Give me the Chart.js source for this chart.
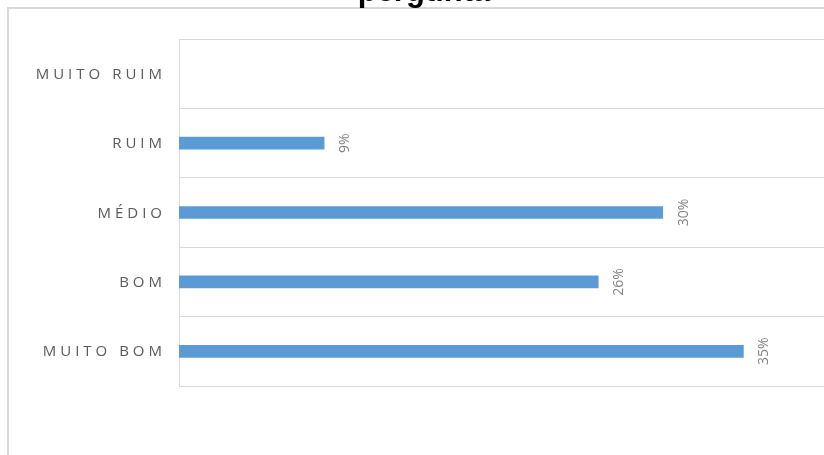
<!DOCTYPE html>
<html>
<head>
<meta charset="utf-8">
<script src="https://cdn.jsdelivr.net/npm/chart.js@4.4.0/dist/chart.umd.min.js"></script>
<style>
  html, body { margin: 0; padding: 0; background: #fff; overflow: hidden; }
  #wrap { position: relative; width: 824px; height: 455px; }
  #frame {
    position: absolute; left: 7px; top: 7px; width: 900px; height: 500px;
    border-left: 2px solid #d9d9d9; border-top: 2px solid #d9d9d9;
  }
  canvas { position: absolute; left: 0; top: 0; }
</style>
</head>
<body>
<div id="wrap">
  <div id="frame"></div>
  <canvas id="answers" width="824" height="455"></canvas>
</div>
<script>
const titleText = 'pergunta';
const categories = ['MUITO RUIM', 'RUIM', 'MÉDIO', 'BOM', 'MUITO BOM'];
const percentages = [null, 9, 30, 26, 35];
const axisMax = 40;

const ctx = document.getElementById('answers').getContext('2d');

// title sits mostly above the top edge, only its lower part shows
const titlePlugin = {
  id: 'titleLine',
  beforeDraw(chart) {
    const c = chart.ctx;
    c.save();
    c.font = 'bold 31px "Liberation Sans", Arial, sans-serif';
    c.fillStyle = '#000';
    c.textAlign = 'center';
    c.textBaseline = 'alphabetic';
    c.fillText(titleText, 424, 1);
    c.restore();
  }
};

// spaced-out category names to the left of the plot
const categoryLabels = {
  id: 'categoryLabels',
  afterDraw(chart) {
    const c = chart.ctx;
    const y = chart.scales.y;
    c.save();
    c.font = '15px "Open Sans", sans-serif';
    c.fillStyle = '#595959';
    c.letterSpacing = '4px';
    c.textAlign = 'right';
    c.textBaseline = 'alphabetic';
    categories.forEach((name, i) => {
      c.fillText(name, 166, y.getPixelForValue(i) + 5);
    });
    c.restore();
  }
};

// rotated percentage next to each bar end
const valueLabels = {
  id: 'valueLabels',
  afterDatasetsDraw(chart) {
    const c = chart.ctx;
    const meta = chart.getDatasetMeta(0);
    c.save();
    c.font = '14px "Open Sans", sans-serif';
    c.fillStyle = '#808080';
    c.textAlign = 'center';
    c.textBaseline = 'middle';
    meta.data.forEach((bar, i) => {
      const v = percentages[i];
      if (v == null) return;
      c.save();
      c.translate(bar.x + 21, bar.y);
      c.rotate(-Math.PI / 2);
      c.fillText(v + '%', 0, 0);
      c.restore();
    });
    c.restore();
  }
};

new Chart(ctx, {
  type: 'bar',
  data: {
    labels: categories,
    datasets: [{
      data: percentages,
      backgroundColor: '#5b9bd5',
      borderWidth: 0,
      barThickness: 12
    }]
  },
  options: {
    indexAxis: 'y',
    responsive: false,
    animation: false,
    layout: { padding: { top: 39, bottom: 69, left: 0, right: 0 } },
    plugins: {
      legend: { display: false },
      tooltip: { enabled: false }
    },
    scales: {
      x: {
        display: false,
        min: 0,
        max: axisMax
      },
      y: {
        ticks: { display: false },
        grid: { color: '#d9d9d9', drawTicks: false, offset: true },
        border: { color: '#d9d9d9' },
        afterFit(scale) { scale.width = 179; }
      }
    }
  },
  plugins: [titlePlugin, categoryLabels, valueLabels]
});
</script>
</body>
</html>
